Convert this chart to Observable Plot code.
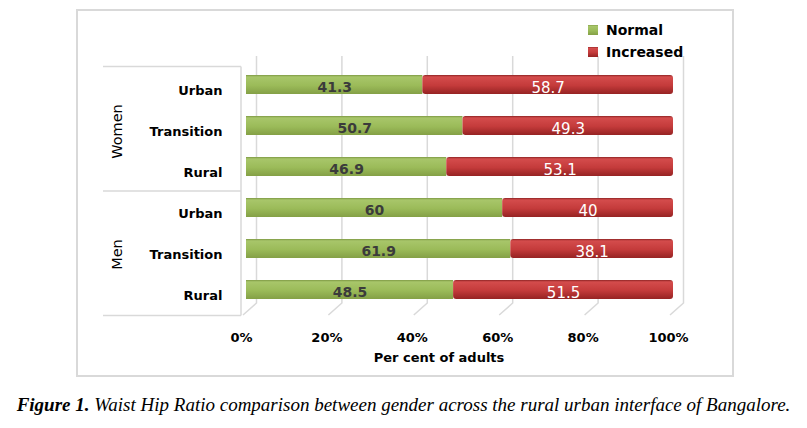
<!DOCTYPE html>
<html><head><meta charset="utf-8">
<script src="https://cdn.jsdelivr.net/npm/d3@7"></script>
<script src="https://cdn.jsdelivr.net/npm/@observablehq/plot@0.6"></script>
<style>
body{margin:0;background:#fff;}
#wrap{width:807px;}
#cap{width:807px;text-align:center;font-family:"Liberation Serif",serif;font-style:italic;font-size:19px;line-height:20px;margin-top:10px;color:#000;white-space:nowrap;}
</style>
</head><body>
<div id="wrap"></div>
<div id="cap"><b>Figure 1.</b> Waist Hip Ratio comparison between gender across the rural urban interface of Bangalore.</div>
<script>
const groups = ["Women","Women","Women","Men","Men","Men"];
const areas = ["Urban","Transition","Rural","Urban","Transition","Rural"];
const normal = [41.3, 50.7, 46.9, 60, 61.9, 48.5];
const increased = [58.7, 49.3, 53.1, 40, 38.1, 51.5];
const xTicks = [0, 20, 40, 60, 80, 100];
const seriesNames = ["Normal", "Increased"];
const groupNames = ["Women", "Men"];

const rows = areas.map((a, i) => ({key: groups[i] + "|" + a, group: groups[i], area: a, normal: normal[i], increased: increased[i]}));
const keys = rows.map(r => r.key);

const plot = Plot.plot({
  width: 807, height: 385,
  marginLeft: 246, marginRight: 134, marginTop: 62, marginBottom: 74,
  x: {domain: [0, 100], ticks: xTicks},
  y: {domain: keys, paddingInner: 0.54, paddingOuter: 0.27},
  style: {fontFamily: "DejaVu Sans", background: "white", color: "#000"},
  marks: [
    Plot.barX(rows, {x1: 0, x2: "normal", y: "key", fill: "url(#gN)"}),
    Plot.barX(rows, {x1: "normal", x2: d => d.normal + d.increased, y: "key", fill: "url(#gI)", rx: 3}),
    Plot.text(rows, {x: d => d.normal / 2, y: "key", text: d => String(d.normal), fill: "#3b3b3b", fontWeight: "bold", fontSize: 14, dy: 3}),
    Plot.text(rows, {x: d => d.normal + d.increased / 2, y: "key", text: d => String(d.increased), fill: "#fff", fontSize: 15, dy: 3}),
    Plot.axisX({ticks: xTicks, tickSize: 0, tickPadding: 21, dx: -5, tickFormat: d => d + "%", fontSize: 13, fontWeight: "bold", label: null}),
    Plot.axisY({tickSize: 0, tickPadding: 24, dy: 6, tickFormat: k => k.split("|")[1], fontSize: 13, fontWeight: "bold", label: null}),
    Plot.text(["Per cent of adults"], {text: d => d, frameAnchor: "bottom", dy: 50, dx: -21, fontSize: 13, fontWeight: "bold"})
  ]
});
document.getElementById("wrap").appendChild(plot);

const svg = d3.select(plot);
const xs = plot.scale("x"), ys = plot.scale("y");
const defs = svg.append("defs");
function grad(id, stops) {
  const g = defs.append("linearGradient").attr("id", id).attr("x1", 0).attr("y1", 0).attr("x2", 0).attr("y2", 1);
  stops.forEach(([o, c]) => g.append("stop").attr("offset", o).attr("stop-color", c));
}
grad("gN", [[0, "#7e9944"], [0.1, "#a8c66a"], [0.55, "#9bbb59"], [1, "#84a046"]]);
grad("gI", [[0, "#8e2424"], [0.1, "#d44c4c"], [0.55, "#c43b3b"], [1, "#962323"]]);

// background decorations under marks
const deco = svg.insert("g", "g");
const [r0, r1] = ys.range;
const x0 = xs.apply(0);
xTicks.forEach(t => {
  const px = xs.apply(t);
  deco.append("path").attr("d", `M${px + 10.5},56V303L${px - 3},315`).attr("fill", "none").attr("stroke", "#d9d9d9").attr("stroke-width", 1.5);
});
const mid = (r0 + r1) / 2;
[r0, mid, r1].forEach(v => {
  deco.append("line").attr("x1", 103).attr("x2", x0 - 5).attr("y1", v + 4.5).attr("y2", v + 4.5).attr("stroke", "#d9d9d9").attr("stroke-width", 1.5);
});
deco.append("line").attr("x1", x0 - 5).attr("x2", x0 - 5).attr("y1", r0 + 4.5).attr("y2", r1 + 4.5).attr("stroke", "#d9d9d9").attr("stroke-width", 1.5);
deco.append("rect").attr("x", 77).attr("y", 10).attr("width", 656).attr("height", 366).attr("fill", "none").attr("stroke", "#d9d9d9").attr("stroke-width", 2);

// group labels
const bw = ys.bandwidth || 19;
groupNames.forEach(g => {
  const ks = keys.filter(k => k.startsWith(g + "|"));
  const k = ks[Math.floor(ks.length / 2)];
  const cy = ys.apply(k) + bw / 2 + 6;
  svg.append("text").attr("transform", `translate(117,${cy}) rotate(-90)`).attr("text-anchor", "middle").attr("dy", "0.35em")
    .attr("font-size", 14.5).attr("fill", "#000").text(g);
});

// legend
const leg = svg.append("g").attr("text-anchor", "start");
seriesNames.forEach((s, i) => {
  const yy = 30 + i * 22;
  leg.append("rect").attr("x", 588).attr("y", yy - 5).attr("width", 10).attr("height", 10).attr("fill", i === 0 ? "url(#gN)" : "url(#gI)");
  leg.append("text").attr("x", 606).attr("y", yy).attr("dy", "0.35em").attr("text-anchor", "start").attr("font-size", 14).attr("font-weight", "bold").attr("fill", "#000").text(s);
});
</script>
</body></html>
